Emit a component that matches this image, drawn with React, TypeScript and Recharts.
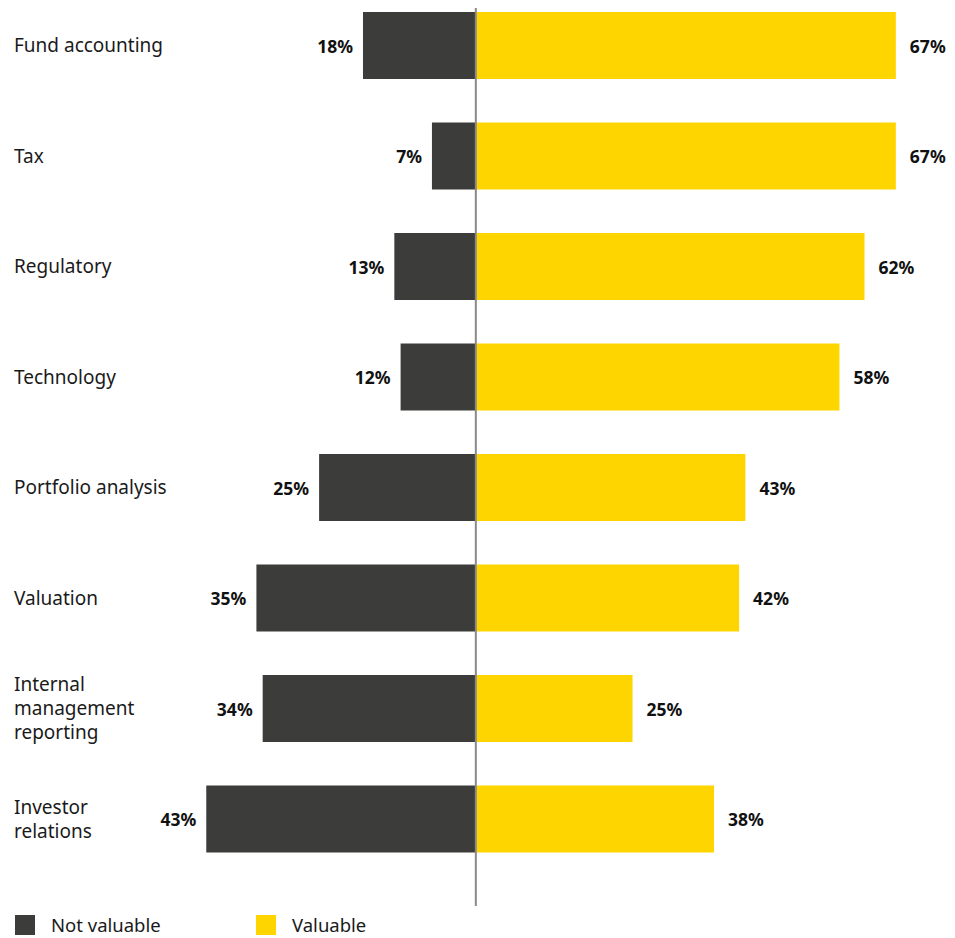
import React from 'react';
import { BarChart, Bar, XAxis, YAxis, ReferenceLine, LabelList, Legend } from 'recharts';

const categories = [
  'Fund accounting',
  'Tax',
  'Regulatory',
  'Technology',
  'Portfolio analysis',
  'Valuation',
  'Internal\nmanagement\nreporting',
  'Investor\nrelations',
];
const notValuable = [18, 7, 13, 12, 25, 35, 34, 43];
const valuable = [67, 67, 62, 58, 43, 42, 25, 38];

const DARK = '#3c3c3b';
const YELLOW = '#ffd500';
const FONT = '"Noto Sans", "Open Sans", sans-serif';

const data = categories.map((name, i) => ({
  name,
  notValuable: -notValuable[i],
  valuable: valuable[i],
}));

const CategoryTick = (props: any) => {
  const { y, payload } = props;
  const lines = String(payload.value).split('\n');
  const lh = 24;
  const start = y - ((lines.length - 1) * lh) / 2;
  return (
    <text x={6} y={start} fill="#1a1a1a" fontSize={19} fontFamily={FONT} dominantBaseline="central">
      {lines.map((l, i) => (
        <tspan key={i} x={6} y={start + i * lh}>
          {l}
        </tspan>
      ))}
    </text>
  );
};

const leftLabel = (p: any) => {
  const left = Math.min(p.x, p.x + p.width);
  return (
    <text x={left - 10} y={p.y + p.height / 2} textAnchor="end" dominantBaseline="central"
      fontSize={17.5} fontWeight={700} fill="#111" fontFamily={FONT}>
      {Math.abs(p.value)}%
    </text>
  );
};

const rightLabel = (p: any) => {
  const right = Math.max(p.x, p.x + p.width);
  return (
    <text x={right + 14} y={p.y + p.height / 2} textAnchor="start" dominantBaseline="central"
      fontSize={17.5} fontWeight={700} fill="#111" fontFamily={FONT}>
      {Math.abs(p.value)}%
    </text>
  );
};

const LegendContent = () => (
  <div style={{ height: 32, display: 'flex', alignItems: 'flex-start', paddingLeft: 7, fontFamily: FONT, fontSize: 18.5, color: '#1a1a1a' }}>
    {[
      { label: 'Not valuable', color: DARK },
      { label: 'Valuable', color: YELLOW },
    ].map((it) => (
      <div key={it.label} style={{ width: 241, display: 'flex', alignItems: 'center', height: 20, marginTop: 9 }}>
        <span style={{ width: 20, height: 20, background: it.color, display: 'inline-block', marginRight: 16, flex: 'none' }} />
        <span style={{ lineHeight: '20px', whiteSpace: 'nowrap' }}>{it.label}</span>
      </div>
    ))}
  </div>
);

export default function App() {
  return (
    <div style={{ width: 947, height: 930 }}>
      <BarChart
        width={947}
        height={930}
        data={data}
        layout="vertical"
        stackOffset="sign"
        margin={{ top: 0, right: 9, left: 0, bottom: 0 }}
      >
        <XAxis type="number" domain={[-70, 75]} hide />
        <YAxis
          type="category"
          dataKey="name"
          width={29}
          axisLine={false}
          tickLine={false}
          padding={{ top: -18, bottom: 32 }}
          tick={<CategoryTick />}
          interval={0}
        />
        <Legend verticalAlign="bottom" align="left" wrapperStyle={{ left: 0 }} content={<LegendContent />} />
        <Bar dataKey="notValuable" stackId="a" fill={DARK} barSize={67} isAnimationActive={false}>
          <LabelList dataKey="notValuable" content={leftLabel} />
        </Bar>
        <Bar dataKey="valuable" stackId="a" fill={YELLOW} barSize={67} isAnimationActive={false}>
          <LabelList dataKey="valuable" content={rightLabel} />
        </Bar>
        <ReferenceLine x={0} stroke="#8a8a8a" strokeWidth={2} />
      </BarChart>
    </div>
  );
}
